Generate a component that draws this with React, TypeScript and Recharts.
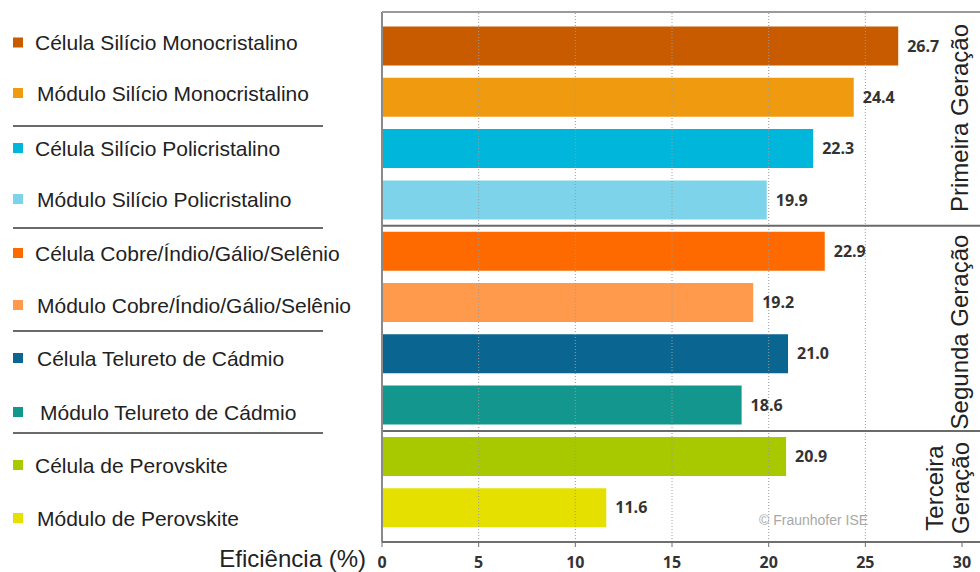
import React from "react";
import {
  BarChart,
  Bar,
  XAxis,
  YAxis,
  Cell,
  LabelList,
  ReferenceLine,
} from "recharts";

const categories = [
  "Célula Silício Monocristalino",
  "Módulo Silício Monocristalino",
  "Célula Silício Policristalino",
  "Módulo Silício Policristalino",
  "Célula Cobre/Índio/Gálio/Selênio",
  "Módulo Cobre/Índio/Gálio/Selênio",
  "Célula Telureto de Cádmio",
  "Módulo Telureto de Cádmio",
  "Célula de Perovskite",
  "Módulo de Perovskite",
];

const efficiency = [26.7, 24.4, 22.3, 19.9, 22.9, 19.2, 21.0, 18.6, 20.9, 11.6];

const colors = [
  "#C85A00",
  "#F09A10",
  "#00B6DA",
  "#7DD4EA",
  "#FF6A00",
  "#FF9A4C",
  "#0A6690",
  "#12968E",
  "#A8C800",
  "#E6E000",
];

const xTicks = [0, 5, 10, 15, 20, 25, 30];
const gridValues = [5, 10, 15, 20, 25];
const AXIS_MAX = 30.93;

// category index where a new generation group starts
const groupStarts = [4, 8];

const groups = [
  { lines: ["Primeira Geração"], center: 118 },
  { lines: ["Segunda Geração"], center: 332 },
  { lines: ["Terceira", "Geração"], center: 488 },
];

const data = categories.map((name, i) => ({ name, value: efficiency[i] }));

// legend layout
const legendCenters = [42.5, 93, 148, 199, 253, 305, 358, 412, 465, 518];
const legendTextX = [35, 37, 35, 37, 35, 37, 37, 40, 35, 37];
const legendSeparators = [126, 228, 331, 433];

const FONT = "'Liberation Sans', Arial, sans-serif";
const NUM_FONT = "'Open Sans', sans-serif";

export default function App() {
  return (
    <div
      style={{
        position: "absolute",
        left: 0,
        top: 0,
        width: 980,
        height: 572,
        background: "#fff",
      }}
    >
      <BarChart
        width={980}
        height={572}
        data={data}
        layout="vertical"
        margin={{ top: 11, right: 0, bottom: 0, left: 382 }}
      >
        <XAxis
          type="number"
          dataKey="value"
          domain={[0, AXIS_MAX]}
          ticks={xTicks}
          allowDataOverflow
          height={30}
          tickSize={5}
          tickMargin={10}
          axisLine={{ stroke: "#6e6e6e", strokeWidth: 2 }}
          tickLine={{ stroke: "#6e6e6e" }}
          tick={{
            fill: "#333",
            fontSize: 16,
            fontWeight: 700,
            fontFamily: NUM_FONT,
          }}
        />
        <XAxis
          xAxisId="top"
          orientation="top"
          type="number"
          domain={[0, AXIS_MAX]}
          ticks={xTicks}
          allowDataOverflow
          height={1}
          tick={false}
          tickLine={false}
          axisLine={{ stroke: "#9a9a9a", strokeWidth: 2 }}
        />
        <YAxis
          type="category"
          dataKey="name"
          hide
          padding={{ top: 8.5, bottom: 8.5 }}
        />
        {gridValues.map((v) => (
          <ReferenceLine
            key={"g" + v}
            x={v}
            stroke="#9c9c9c"
            strokeDasharray="1 2"
            strokeWidth={1}
          />
        ))}
        <Bar dataKey="value" barSize={39} isAnimationActive={false}>
          {data.map((d, i) => (
            <Cell key={d.name} fill={colors[i]} />
          ))}
          <LabelList
            dataKey="value"
            position="right"
            offset={9}
            formatter={(v: any) => Number(v).toFixed(1)}
            style={{
              fill: "#333",
              fontSize: 16,
              fontWeight: 700,
              fontFamily: NUM_FONT,
            }}
          />
        </Bar>
        {groupStarts.map((idx) => (
          <ReferenceLine
            key={"s" + idx}
            y={categories[idx]}
            position="start"
            stroke="#6a6a6a"
            strokeWidth={2}
          />
        ))}
        <ReferenceLine x={0} stroke="#8a8a8a" strokeWidth={2} />
      </BarChart>

      <svg
        width={980}
        height={572}
        style={{ position: "absolute", left: 0, top: 0, pointerEvents: "none" }}
      >
        {categories.map((c, i) => (
          <g key={c}>
            <rect
              x={13}
              y={legendCenters[i] - 5}
              width={10}
              height={10}
              fill={colors[i]}
            />
            <text
              x={legendTextX[i]}
              y={legendCenters[i] + 7.5}
              fontSize={21}
              fontFamily={FONT}
              fill="#222"
            >
              {c}
            </text>
          </g>
        ))}
        {legendSeparators.map((y) => (
          <line
            key={y}
            x1={13}
            x2={323}
            y1={y}
            y2={y}
            stroke="#6a6a6a"
            strokeWidth={2}
          />
        ))}
        <text
          x={366}
          y={567}
          textAnchor="end"
          fontSize={24}
          fontFamily={FONT}
          fill="#222"
        >
          Eficiência (%)
        </text>
        {groups.map((g, gi) =>
          g.lines.map((line, li) => {
            const n = g.lines.length;
            const bx = n === 1 ? 968 : li === 0 ? 943 : 969;
            return (
              <text
                key={gi + "-" + li}
                transform={`translate(${bx},${g.center}) rotate(-90)`}
                textAnchor="middle"
                fontSize={24}
                fontFamily={FONT}
                fill="#222"
              >
                {line}
              </text>
            );
          })
        )}
        <text
          x={759}
          y={525}
          fontSize={14}
          fontFamily={FONT}
          fill="#a8a8a8"
        >
          © Fraunhofer ISE
        </text>
      </svg>
    </div>
  );
}
